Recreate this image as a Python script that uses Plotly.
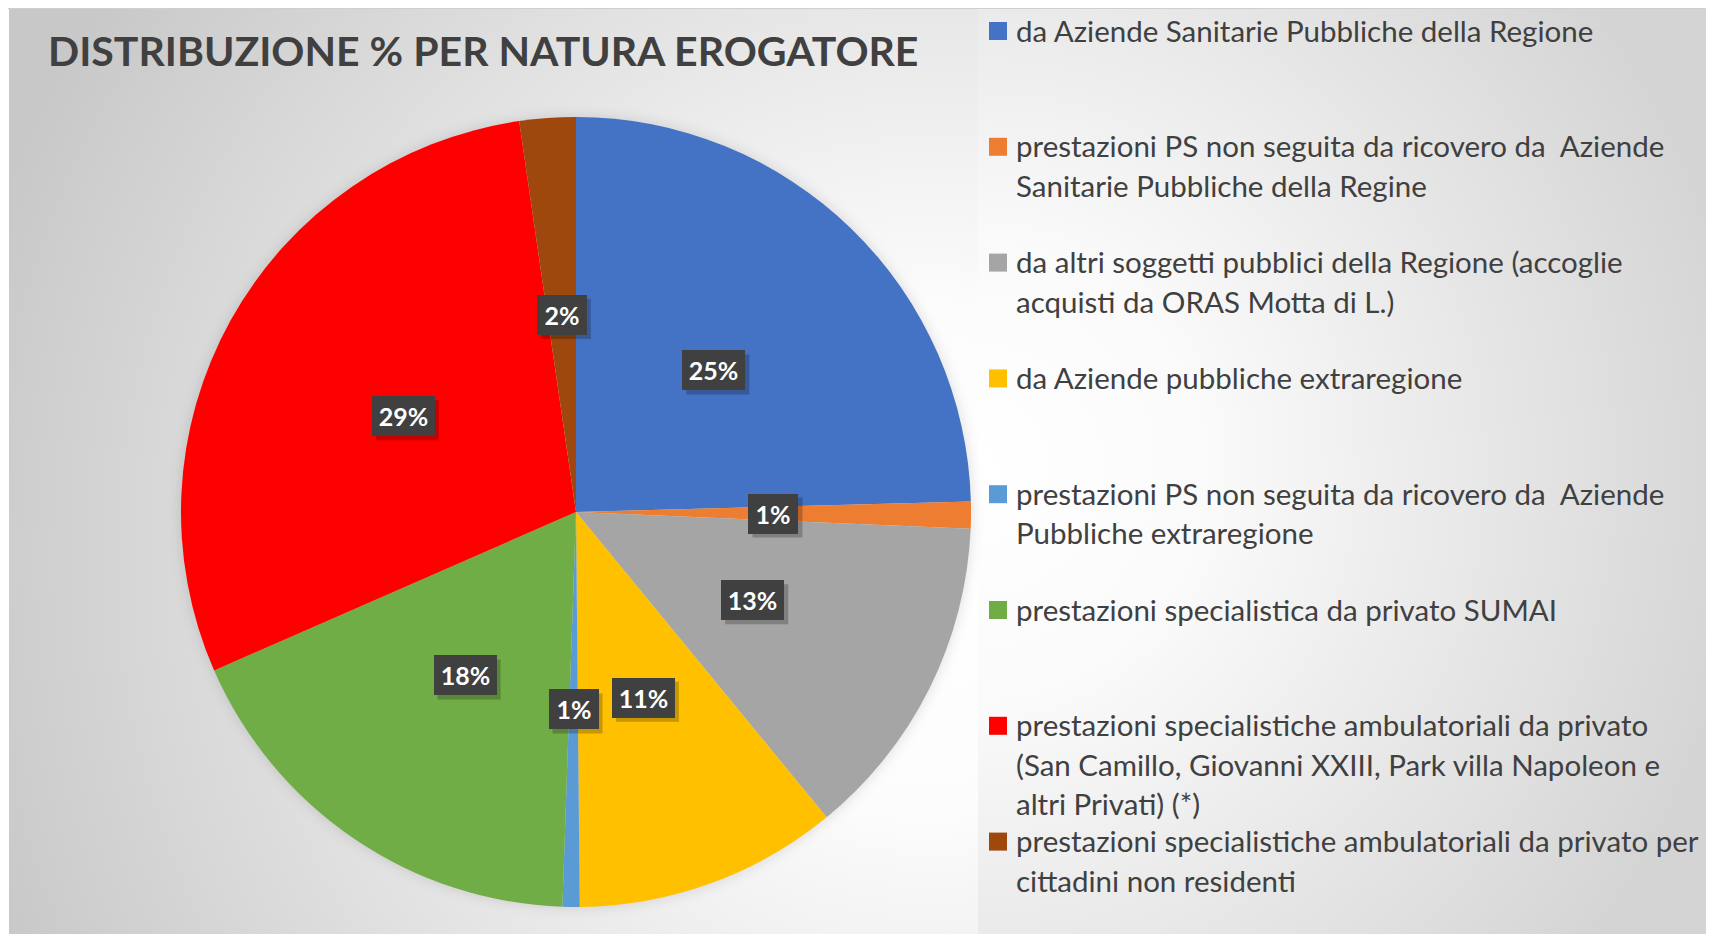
import math
import base64
import plotly.graph_objects as go

# ---------------- data ----------------
categories = [
    "da Aziende Sanitarie Pubbliche della Regione",
    "prestazioni PS non seguita da ricovero da  Aziende Sanitarie Pubbliche della Regine",
    "da altri soggetti pubblici della Regione (accoglie acquisti da ORAS Motta di L.)",
    "da Aziende pubbliche extraregione",
    "prestazioni PS non seguita da ricovero da  Aziende Pubbliche extraregione",
    "prestazioni specialistica da privato SUMAI",
    "prestazioni specialistiche ambulatoriali da privato (San Camillo, Giovanni XXIII, Park villa Napoleon e altri Privati) (*)",
    "prestazioni specialistiche ambulatoriali da privato per cittadini non residenti",
]
values = [24.6, 1.1, 13.4, 10.8, 0.7, 17.9, 29.3, 2.3]
legend_lines = [
    ["da Aziende Sanitarie Pubbliche della Regione"],
    ["prestazioni PS non seguita da ricovero da  Aziende", "Sanitarie Pubbliche della Regine"],
    ["da altri soggetti pubblici della Regione (accoglie", "acquisti da ORAS Motta di L.)"],
    ["da Aziende pubbliche extraregione"],
    ["prestazioni PS non seguita da ricovero da  Aziende", "Pubbliche extraregione"],
    ["prestazioni specialistica da privato SUMAI"],
    ["prestazioni specialistiche ambulatoriali da privato",
     "(San Camillo, Giovanni XXIII, Park villa Napoleon e", "altri Privati) (*)"],
    ["prestazioni specialistiche ambulatoriali da privato per", "cittadini non residenti"],
]
title_text = "DISTRIBUZIONE % PER NATURA EROGATORE"

colors = ["#4472C4", "#ED7D31", "#A5A5A5", "#FFC000",
          "#5B9BD5", "#70AD47", "#FF0000", "#9E480E"]

# ---------------- layout geometry (page pixels) ----------------
PW, PH = 1714, 934          # browser window
OFF = 8                     # default page body margin
W, H = PW - OFF, PH - OFF   # figure size
CX, CY, R = 576, 512, 395
TEXT_COLOR = "#404040"
FONT = "Lato, 'Open Sans', sans-serif"

def px(x):
    return (x - OFF) / W

def py(y):
    return (H - (y - OFF)) / H

def fx(x):
    return x - OFF

svg = f"""<svg xmlns='http://www.w3.org/2000/svg' width='{W}' height='{H}' viewBox='0 0 {W} {H}'>
<defs>
<radialGradient id='g1' gradientUnits='userSpaceOnUse' cx='{fx(930)}' cy='{fx(560)}' r='1000'>
<stop offset='0' stop-color='#ffffff'/><stop offset='0.25' stop-color='#fcfcfc'/><stop offset='1' stop-color='#c8c8c8'/>
</radialGradient>
<radialGradient id='g2' gradientUnits='userSpaceOnUse' cx='{fx(978)}' cy='{fx(470)}' r='780'>
<stop offset='0' stop-color='#ffffff'/><stop offset='0.3' stop-color='#fafafa'/><stop offset='1' stop-color='#d4d4d4'/>
</radialGradient>
<filter id='blur' x='-20%' y='-20%' width='140%' height='140%'><feGaussianBlur stdDeviation='6'/></filter>
</defs>
<rect x='0' y='0' width='{W}' height='{H}' fill='#ffffff'/>
<rect x='{fx(9)}' y='0' width='{978-9}' height='{H}' fill='url(#g1)'/>
<rect x='{fx(978)}' y='0' width='{PW-978}' height='{H}' fill='url(#g2)'/>
<circle cx='{fx(CX)}' cy='{fx(CY)}' r='{R+2}' fill='#000000' fill-opacity='0.10' filter='url(#blur)'/>
<line x1='0' y1='0' x2='{W}' y2='0' stroke='#cfcfcf' stroke-width='2'/>
<line x1='{W-0.5}' y1='0' x2='{W-0.5}' y2='{H}' stroke='#c8c8c8' stroke-width='1'/>
</svg>"""
bg_src = "data:image/svg+xml;base64," + base64.b64encode(svg.encode()).decode()

fig = go.Figure()
fig.add_trace(go.Pie(
    labels=categories,
    values=values,
    marker=dict(colors=colors, line=dict(width=0)),
    sort=False,
    direction="clockwise",
    rotation=0,
    textinfo="none",
    showlegend=False,
    domain=dict(x=[px(CX - R), px(CX + R)], y=[py(CY + R), py(CY - R)]),
))

annotations = []
shapes = []

# percentage labels (dark boxes) at half radius along each slice's mid angle
total = sum(values)
cum = 0.0
for v in values:
    mid = 2 * math.pi * (cum + v / 2) / total
    cum += v
    lx = CX + 0.5 * R * math.sin(mid)
    ly = CY - 0.5 * R * math.cos(mid)
    txt = f"{round(v / total * 100)}%"
    bw, bh = 13 * len(txt) + 24, 40
    # soft drop shadow
    shapes.append(dict(
        type="rect", xref="paper", yref="paper", layer="above",
        x0=px(lx - bw / 2 + 4), x1=px(lx + bw / 2 + 4),
        y0=py(ly + bh / 2 + 4), y1=py(ly - bh / 2 + 4),
        fillcolor="rgba(0,0,0,0.22)", line=dict(width=0),
    ))
    annotations.append(dict(
        x=px(lx), y=py(ly), xref="paper", yref="paper",
        text=f"<b>{txt}</b>", showarrow=False,
        font=dict(family=FONT, size=25, color="white"),
        bgcolor="#404040", borderpad=0, borderwidth=0,
        width=bw, height=bh,
        xanchor="center", yanchor="middle",
    ))

# title
annotations.append(dict(
    x=px(46), y=py(51), xref="paper", yref="paper",
    text=f"<b>{title_text}</b>", showarrow=False,
    font=dict(family=FONT, size=41, color=TEXT_COLOR),
    xanchor="left", yanchor="middle",
))

# legend (manual, evenly spaced slots)
SLOT0, SLOT = 30, 115.8
LINE = 39.4
for i, lines in enumerate(legend_lines):
    y0 = SLOT0 + i * SLOT
    shapes.append(dict(
        type="rect", xref="paper", yref="paper",
        x0=px(989), x1=px(1007), y0=py(y0 - 8), y1=py(y0 + 10),
        fillcolor=colors[i], line=dict(width=0),
    ))
    for j, ln in enumerate(lines):
        annotations.append(dict(
            x=px(1014), y=py(y0 + j * LINE), xref="paper", yref="paper",
            text=ln.replace("  ", "&nbsp; "), showarrow=False,
            font=dict(family=FONT, size=29.5, color=TEXT_COLOR),
            xanchor="left", yanchor="middle",
        ))

fig.update_layout(
    width=W, height=H,
    margin=dict(l=0, r=0, t=0, b=0),
    paper_bgcolor="white",
    plot_bgcolor="white",
    annotations=annotations,
    shapes=shapes,
    images=[dict(source=bg_src, xref="paper", yref="paper", x=0, y=1,
                 sizex=1, sizey=1, xanchor="left", yanchor="top",
                 sizing="stretch", layer="below")],
)

fig.write_html("out.html")
